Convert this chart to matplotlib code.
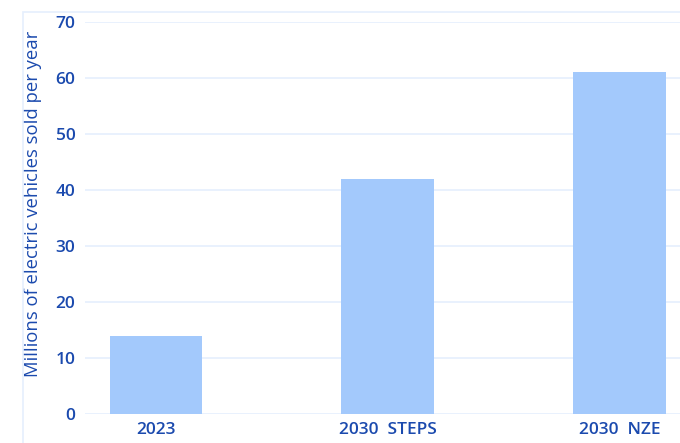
import matplotlib
matplotlib.use("Agg")
import matplotlib.pyplot as plt
from matplotlib.patches import Rectangle

categories = ["2023", "2030  STEPS", "2030  NZE"]
values = [14, 42, 61]

plt.rcParams['font.family'] = ['Open Sans', 'DejaVu Sans']
txt = "#1b4aae"
bar_c = "#a3c9fc"
grid_c = "#e5effd"

fig = plt.figure(figsize=(6.8, 4.43), dpi=100)
fig.patches.append(Rectangle((23/680, -0.1), 1.2, (443-12)/443 + 0.1, transform=fig.transFigure,
                             fill=False, edgecolor=grid_c, linewidth=1.2, zorder=0))
ax = fig.add_axes([85/680, 29/443, 595/680, 392/443])
x = list(range(len(categories)))
ax.bar(x, values, width=0.4, color=bar_c, zorder=2)
ax.set_xlim(-0.306, 2.26)
ax.set_ylim(0, 70)
ax.set_yticks(range(0, 71, 10))
ax.set_xticks(x)
ax.set_xticklabels(categories)
ax.grid(axis='y', color=grid_c, linewidth=1.2, zorder=0)
ax.set_axisbelow(True)
for s in ax.spines.values():
    s.set_visible(False)
ax.tick_params(axis='both', length=0, colors=txt, labelsize=12.5)
for lab in ax.get_xticklabels() + ax.get_yticklabels():
    lab.set_fontweight('semibold')
ax.tick_params(axis='y', pad=7)
ax.tick_params(axis='x', pad=6)
ax.set_ylabel("Millions of electric vehicles sold per year", color=txt, fontsize=13.3,
              fontweight='medium')
ax.yaxis.set_label_coords((42 - 85) / 595, (443 - 204 - 29) / 392)
fig.savefig("out.png", dpi=100)
